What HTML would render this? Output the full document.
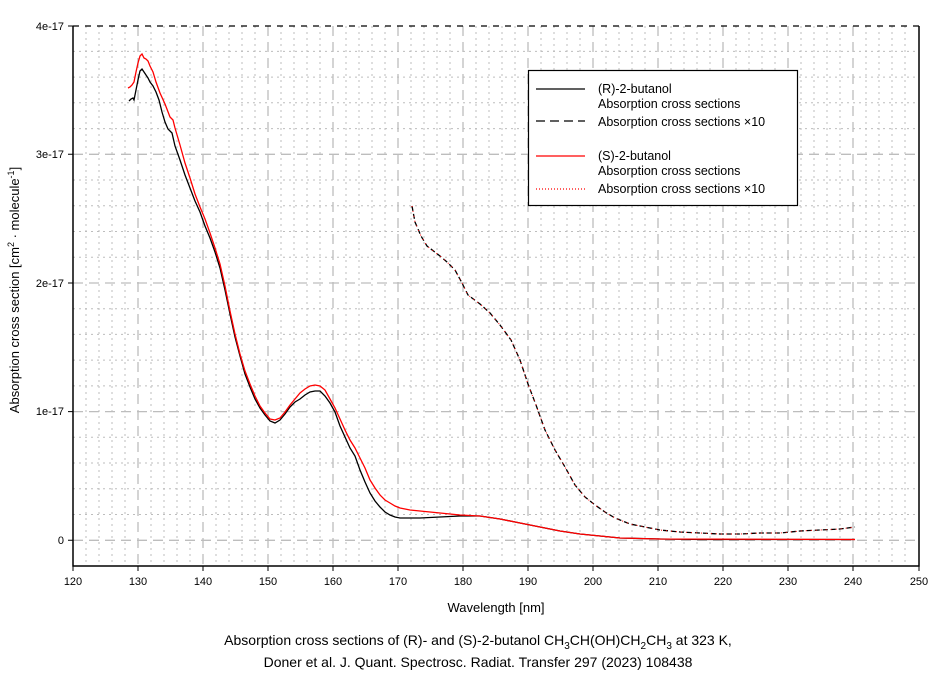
<!DOCTYPE html>
<html><head><meta charset="utf-8"><style>
body{margin:0;background:#fff;}
svg{display:block;font-family:"Liberation Sans",sans-serif;}
</style></head><body>
<svg width="944" height="676" xmlns="http://www.w3.org/2000/svg">
<rect width="944" height="676" fill="#fff"/>
<g stroke="#bdbdbd" stroke-width="1" stroke-dasharray="2,4" fill="none">
<path d="M86,26V566M99,26V566M112,26V566M125,26V566M151,26V566M164,26V566M177,26V566M190,26V566M216,26V566M229,26V566M242,26V566M255,26V566M281,26V566M294,26V566M307,26V566M320,26V566M346,26V566M359,26V566M372,26V566M385,26V566M411,26V566M424,26V566M437,26V566M450,26V566M476,26V566M489,26V566M502,26V566M515,26V566M541,26V566M554,26V566M567,26V566M580,26V566M606,26V566M619,26V566M632,26V566M645,26V566M671,26V566M684,26V566M697,26V566M710,26V566M736,26V566M749,26V566M762,26V566M775,26V566M801,26V566M814,26V566M827,26V566M840,26V566M866,26V566M879,26V566M892,26V566M905,26V566"/>
<path d="M73,51.4H919M73,77.1H919M73,102.8H919M73,128.6H919M73,180H919M73,205.8H919M73,231.5H919M73,257.2H919M73,308.7H919M73,334.4H919M73,360.1H919M73,385.9H919M73,437.3H919M73,463H919M73,488.8H919M73,514.5H919"/>
</g>
<g stroke="#bdbdbd" stroke-width="1.3" stroke-dasharray="10,6" fill="none">
<path d="M138,26V566M203,26V566M268,26V566M333,26V566M398,26V566M463,26V566M528,26V566M593,26V566M658,26V566M723,26V566M788,26V566M853,26V566"/>
<path d="M73,154.3H919M73,283H919M73,411.6H919M73,540.3H919"/>
</g>
<path d="M73,26H919" stroke="#000" stroke-width="1.3" stroke-dasharray="6,6"/>
<path d="M73,26V566H919V26" stroke="#000" stroke-width="1.5" fill="none"/>
<g stroke="#000" stroke-width="1">
<path d="M68,26H73M68,154.3H73M68,283H73M68,411.6H73M68,540.3H73"/>
<path d="M73,566v5M138,566v5M203,566v5M268,566v5M333,566v5M398,566v5M463,566v5M528,566v5M593,566v5M658,566v5M723,566v5M788,566v5M853,566v5M919,566v5"/>
</g>
<g font-size="11" text-anchor="end" fill="#000">
<text x="64" y="30">4e-17</text><text x="64" y="158">3e-17</text><text x="64" y="287">2e-17</text><text x="64" y="415">1e-17</text><text x="64" y="544">0</text>
</g>
<g font-size="11" text-anchor="middle" fill="#000">
<text x="73" y="585">120</text><text x="138" y="585">130</text><text x="203" y="585">140</text><text x="268" y="585">150</text><text x="333" y="585">160</text><text x="398" y="585">170</text><text x="463" y="585">180</text><text x="528" y="585">190</text><text x="593" y="585">200</text><text x="658" y="585">210</text><text x="723" y="585">220</text><text x="788" y="585">230</text><text x="853" y="585">240</text><text x="919" y="585">250</text>
</g>
<text x="496" y="612" font-size="13" text-anchor="middle">Wavelength [nm]</text>
<text transform="translate(19,290) rotate(-90)" font-size="13" text-anchor="middle">Absorption cross section [cm<tspan dy="-5" font-size="9">2</tspan><tspan dy="5"> · molecule</tspan><tspan dy="-5" font-size="9">-1</tspan><tspan dy="5">]</tspan></text>
<text x="478" y="645" font-size="14" text-anchor="middle">Absorption cross sections of (R)- and (S)-2-butanol CH<tspan dy="4" font-size="10">3</tspan><tspan dy="-4">CH(OH)CH</tspan><tspan dy="4" font-size="10">2</tspan><tspan dy="-4">CH</tspan><tspan dy="4" font-size="10">3</tspan><tspan dy="-4"> at 323 K,</tspan></text>
<text x="478" y="667" font-size="14" text-anchor="middle">Doner et al. J. Quant. Spectrosc. Radiat. Transfer 297 (2023) 108438</text>
<polyline fill="none" stroke="#000" stroke-width="1.3" points="129,101 131,99 133,98 134,100 136,90 138,80 140,71 142,69 144,72 146,75 148,78 150,82 153,86 156,92 159,100 162,112 165,122 168,129 172,133 175,146 180,160 185,175 190,188 195,201 200,212 205,226 210,238 215,252 220,268 225,290 230,314 235,337 240,356 245,374 250,387 255,399 260,408 265,415 270,421 275,423 280,420 285,414 290,407 295,402 300,399 305,395 310,392 315,391 320,391 325,396 330,403 335,412 340,426 345,437 350,448 355,456 360,470 365,482 370,493 375,501 380,507 385,512 390,515 395,517 400,518 410,518 420,518 440,517 460,516 480,516 500,519 520,523 540,527 560,531 580,534 600,536 620,538 660,539 700,539.5 855,539.5"/>
<polyline fill="none" stroke="#f00" stroke-width="1.3" points="128,88 130,87 132,85 134,82 136,72 138,63 140,56 142,54 144,58 146,59 148,61 150,66 153,72 156,82 160,93 165,104 170,117 173,120 175,128 180,145 185,163 190,178 195,194 200,207 205,219 210,233 215,248 220,264 225,286 230,311 235,334 240,354 245,371 250,384 255,396 260,406 265,413 270,419 275,420 280,418 285,412 290,405 295,399 300,393 305,389 310,386 315,385 320,386 325,390 330,399 335,408 340,419 345,430 350,440 355,448 360,458 365,468 370,480 375,488 380,495 385,500 390,503 395,506 400,508 410,510 420,511 440,513 460,515 480,516 500,519 520,523 540,527 560,531 580,534 600,536 620,538 660,539 855,539.5"/>
<polyline fill="none" stroke="#000" stroke-width="1.3" stroke-dasharray="5,3" points="412,206 415,222 421,236 427,246 440,256 447,262 455,270 462,283 468,295 480,304 490,313 500,325 511,340 520,360 528,384 536,405 545,430 555,450 565,467 575,485 585,497 595,505 605,512 615,518 630,524 645,527 660,530 680,532 700,533 720,534 740,534 760,533 780,533 800,531 820,530 840,529 855,527"/>
<polyline fill="none" stroke="#f00" stroke-width="1" stroke-dasharray="1,4" points="412,206 415,222 421,236 427,246 440,256 447,262 455,270 462,283 468,295 480,304 490,313 500,325 511,340 520,360 528,384 536,405 545,430 555,450 565,467 575,485 585,497 595,505 605,512 615,518 630,524 645,527 660,530 680,532 700,533 720,534 740,534 760,533 780,533 800,531 820,530 840,529 855,527"/>
<rect x="528.5" y="70.5" width="269" height="135" fill="#fff" stroke="#000" stroke-width="1.2"/>
<g stroke-width="1.2">
<path d="M536,89H585" stroke="#000"/>
<path d="M536,121H585" stroke="#000" stroke-dasharray="9,5"/>
<path d="M536,156H585" stroke="#f00"/>
<path d="M536,189H585" stroke="#f00" stroke-dasharray="1,2"/>
</g>
<g font-size="12.5" fill="#000">
<text x="598" y="93">(R)-2-butanol</text>
<text x="598" y="108">Absorption cross sections</text>
<text x="598" y="126">Absorption cross sections ×10</text>
<text x="598" y="160">(S)-2-butanol</text>
<text x="598" y="175">Absorption cross sections</text>
<text x="598" y="193">Absorption cross sections ×10</text>
</g>
</svg>
</body></html>
